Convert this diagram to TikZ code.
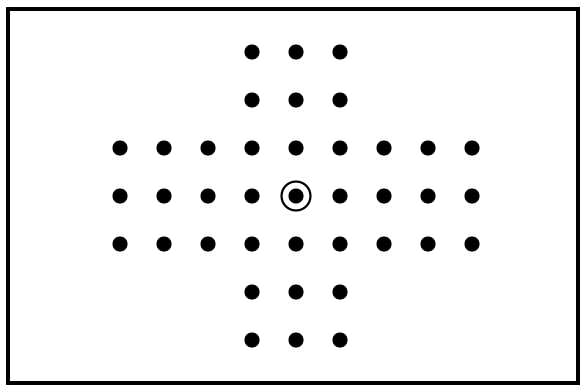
\documentclass[tikz,border=0pt]{standalone}
\usetikzlibrary{positioning}
\begin{document}
\begin{tikzpicture}[
  x=0.05cm,y=-0.05cm,
  peg/.style={circle,fill=black,inner sep=0pt,minimum size=0.76cm},
  ring/.style={circle,draw,line width=3pt,inner sep=0pt,minimum size=1.45cm},
  board/.style={draw,line width=5pt},
]
\useasboundingbox (0,0) rectangle (582,389);
% Board frame
\draw[board] (8,9) rectangle (578,383);
% Arms of the cross: three holes wide
\foreach \r in {0,1,5,6}
  \foreach \c in {3,4,5}
    \node[peg] (h-\c-\r) at ({120+44*\c},{52+48*\r}) {};
% Middle band: nine holes wide
\foreach \r in {2,3,4}
  \foreach \c in {0,...,8}
    \node[peg] (h-\c-\r) at ({120+44*\c},{52+48*\r}) {};
% Empty centre marked by a ring
\node[ring] (centre) at (h-4-3) {};
\end{tikzpicture}
\end{document}
